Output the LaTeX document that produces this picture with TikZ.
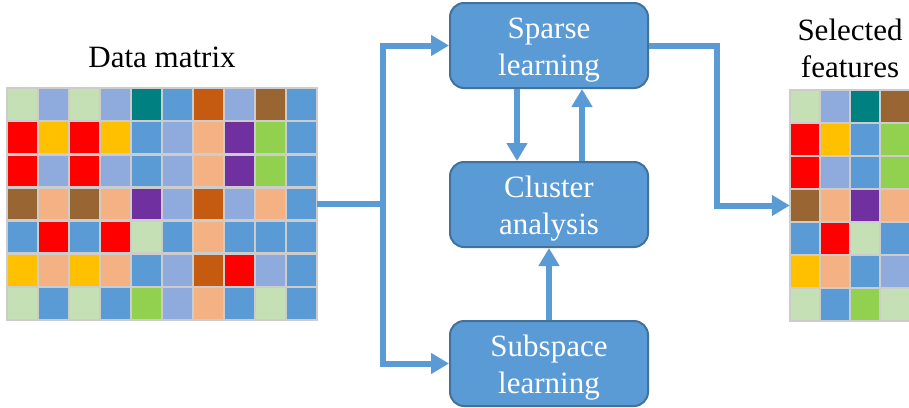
\documentclass[tikz,border=0pt]{standalone}
\usepackage{fontspec}
\setmainfont{Liberation Serif}
\usepackage{tikz}
\usetikzlibrary{
        arrows.meta,
        positioning
    }
\definecolor{lgr}{HTML}{C5E0B4}
\definecolor{lbl}{HTML}{8FAADC}
\definecolor{tea}{HTML}{008080}
\definecolor{blu}{HTML}{5B9BD5}
\definecolor{ora}{HTML}{C55A11}
\definecolor{brn}{HTML}{996633}
\definecolor{yel}{HTML}{FFC000}
\definecolor{pch}{HTML}{F4B183}
\definecolor{pur}{HTML}{7030A0}
\definecolor{grn}{HTML}{92D050}
\definecolor{edge}{HTML}{41719C}
\newcommand{\toplift}{\rule{0pt}{30pt}}
\tikzset{>={Triangle[width=20pt,length=18pt]},font=\fontsize{31}{37.5}\selectfont}
\tikzset{stage/.style={draw=edge,line width=2pt,fill=blu,rounded corners=14pt,
        minimum width=198pt,minimum height=85pt,text=white,align=center,inner sep=0pt}}
\tikzset{flow/.style={draw=blu,line width=6pt}}
\tikzset{cell/.style={draw=black!20,line width=2.5pt}}

\begin{document}
\begin{tikzpicture}[x=1pt,y=-1pt]
                    \useasboundingbox (0,0) rectangle (909,407);
                    % data matrix, 10 x 7 cells
                    \foreach \row [count=\r] in {
                        {lgr,lbl,lgr,lbl,tea,blu,ora,lbl,brn,blu},
                        {red,yel,red,yel,blu,lbl,pch,pur,grn,blu},
                        {red,lbl,red,lbl,blu,lbl,pch,pur,grn,blu},
                        {brn,pch,brn,pch,pur,lbl,ora,lbl,pch,blu},
                        {blu,red,blu,red,lgr,blu,pch,blu,blu,blu},
                        {yel,pch,yel,pch,blu,lbl,ora,red,lbl,blu},
                        {lgr,blu,lgr,blu,grn,lbl,pch,blu,lgr,blu}}
                        \foreach \c [count=\k] in \row
                            \draw[cell,fill=\c] ({7+31*(\k-1)},{88+33.14*(\r-1)}) rectangle ++(31,33.14);
                    % selected columns
                    \foreach \row [count=\r] in {
                        {lgr,lbl,tea,brn},
                        {red,yel,blu,grn},
                        {red,lbl,blu,grn},
                        {brn,pch,pur,pch},
                        {blu,red,lgr,blu},
                        {yel,pch,blu,lbl},
                        {lgr,blu,grn,lgr}}
                        \foreach \c [count=\k] in \row
                            \draw[cell,fill=\c] ({790+30*(\k-1)},{90+33*(\r-1)}) rectangle ++(30,33);
                    \node[inner sep=0pt,minimum width=310pt,minimum height=232pt] (data) at (162,204) {};
                    \node[inner sep=0pt,minimum width=120pt,minimum height=231pt] (sel) at (850,205.5) {};
                    \node[above=16pt of data] (datalabel) {Data matrix};
                    \node[above=8pt of sel,align=center] (sellabel) {Selected\\features};
                    \node[stage] (sparse) at (549,45.5) {\toplift Sparse\\learning};
                    \node[stage] (cluster) at (549,204.5) {\toplift Cluster\\analysis};
                    \node[stage] (subspace) at (549,363.5) {\toplift Subspace\\learning};
                    \coordinate (split) at (383,204);
                    \coordinate (bend) at (717,45.5);
                    \draw[flow] (data.east) -- (split);
                    \draw[flow,->] (split) |- (sparse.west);
                    \draw[flow,->] (split) |- (subspace.west);
                    \draw[flow,->] ([xshift=-32pt]sparse.south) -- ([xshift=-32pt]cluster.north);
                    \draw[flow,->] ([xshift=33pt]cluster.north) -- ([xshift=33pt]sparse.south);
                    \draw[flow,->] (subspace.north) -- (cluster.south);
                    \draw[flow,->] (sparse.east) -- (bend) |- (sel.west);
                \end{tikzpicture}
\end{document}
